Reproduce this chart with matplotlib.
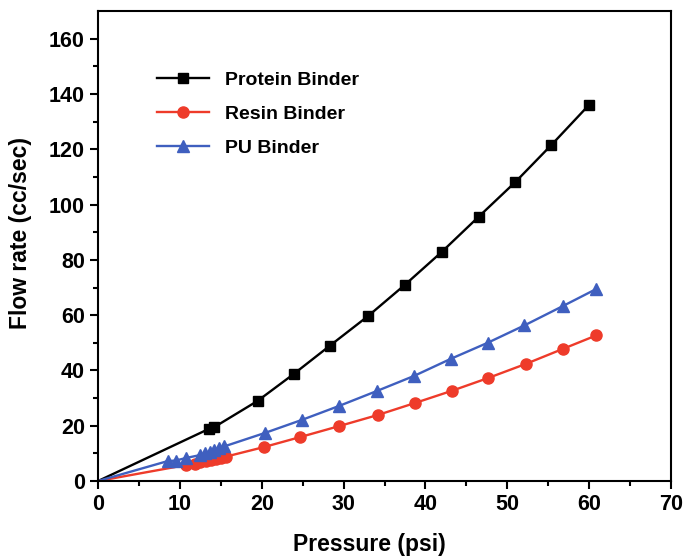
import matplotlib.pyplot as plt

plt.rcParams['font.family'] = ['Liberation Sans', 'DejaVu Sans']
plt.rcParams['font.weight'] = 'bold'

# pressure (psi) and flow rate (cc/sec) for each binder
protein_x = [0, 13.5, 14.2, 19.5, 23.9, 28.3, 33.0, 37.5, 42.0, 46.5, 51.0, 55.4, 60.0]
protein_y = [0, 18.8, 19.5, 29.0, 38.7, 48.9, 59.7, 71.0, 82.9, 95.6, 108.2, 121.6, 136.1]

resin_x = [0, 10.8, 11.8, 12.5, 13.2, 13.8, 14.4, 15.0, 15.6, 20.3, 24.7, 29.5, 34.2, 38.7,
           43.2, 47.7, 52.3, 56.8, 60.9]
resin_y = [0, 5.8, 6.3, 6.7, 7.1, 7.5, 7.9, 8.3, 8.8, 12.3, 15.9, 19.9, 23.9, 28.2,
           32.6, 37.3, 42.4, 47.8, 52.7]

pu_x = [0, 8.5, 9.5, 10.7, 12.5, 13.1, 13.7, 14.2, 14.8, 15.4, 20.4, 24.9, 29.4, 34.1,
        38.6, 43.1, 47.6, 52.1, 56.8, 60.9]
pu_y = [0, 7.2, 7.4, 8.3, 9.4, 10.0, 10.6, 11.2, 11.8, 12.5, 17.4, 22.1, 27.1, 32.6,
        38.0, 44.2, 50.0, 56.3, 63.3, 69.5]

fig = plt.figure(figsize=(6.86, 5.58), dpi=100)
ax = fig.add_axes([0.143, 0.138, 0.835, 0.842])

ax.plot(protein_x, protein_y, color='black', marker='s', ms=7.5, lw=1.7,
        markevery=slice(1, None), label='Protein Binder')
ax.plot(resin_x, resin_y, color='#EE3B2A', marker='o', ms=8, lw=1.7,
        markevery=slice(1, None), label='Resin Binder')
ax.plot(pu_x, pu_y, color='#3F5FBF', marker='^', ms=8.5, lw=1.7,
        markevery=slice(1, None), label='PU Binder')

ax.set_xlim(0, 70)
ax.set_ylim(0, 170)
ax.set_xticks(range(0, 71, 10))
ax.set_xticks(range(5, 70, 10), minor=True)
ax.set_yticks(range(0, 161, 20))
ax.set_yticks(range(10, 170, 20), minor=True)

for s in ax.spines.values():
    s.set_linewidth(1.5)
ax.tick_params(which='major', direction='out', length=6, width=1.5, labelsize=15.5)
ax.tick_params(which='minor', direction='out', length=3.5, width=1.5)

ax.set_xlabel('Pressure (psi)', fontsize=16.5, fontweight='bold')
ax.xaxis.set_label_coords(0.473, -0.11)
ax.set_ylabel('Flow rate (cc/sec)', fontsize=16.5, fontweight='bold')
ax.yaxis.set_label_coords(-0.115, 0.528)

ax.legend(loc='upper left', bbox_to_anchor=(0.072, 0.91), frameon=False, fontsize=14,
          handlelength=2.7, labelspacing=0.85)

plt.savefig('out.png')
